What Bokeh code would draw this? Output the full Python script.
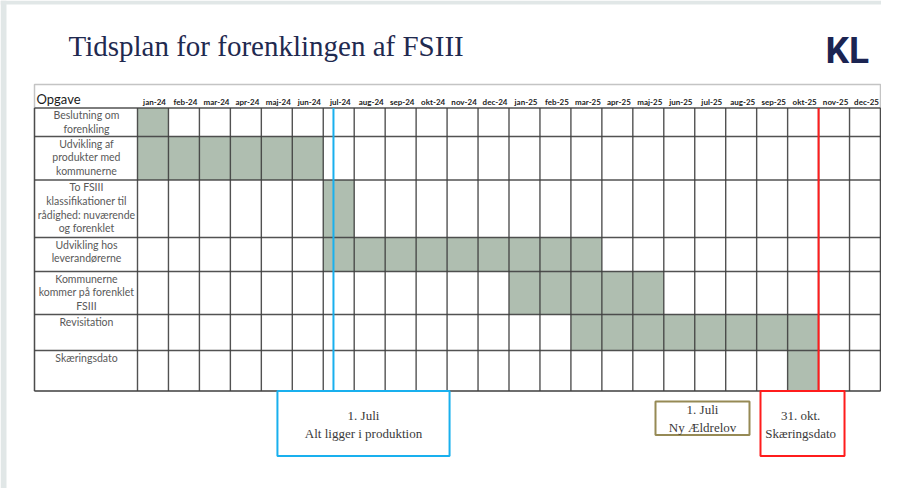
from bokeh.plotting import figure
from bokeh.models import Range1d
from bokeh.core.properties import value
from bokeh.embed import file_html
from bokeh.resources import INLINE

# ---------------- data ----------------
months = ["jan-24", "feb-24", "mar-24", "apr-24", "maj-24", "jun-24",
          "jul-24", "aug-24", "sep-24", "okt-24", "nov-24", "dec-24",
          "jan-25", "feb-25", "mar-25", "apr-25", "maj-25", "jun-25",
          "jul-25", "aug-25", "sep-25", "okt-25", "nov-25", "dec-25"]

tasks = ["Beslutning om\nforenkling",
         "Udvikling af\nprodukter med\nkommunerne",
         "To FSIII\nklassifikationer til\nrådighed: nuværende\nog forenklet",
         "Udvikling hos\nleverandørerne",
         "Kommunerne\nkommer på forenklet\nFSIII",
         "Revisitation",
         "Skæringsdato"]
task_start = ["jan-24", "jan-24", "jul-24", "jul-24", "jan-25", "mar-25", "okt-25"]
task_end = ["jan-24", "jun-24", "jul-24", "mar-25", "maj-25", "okt-25", "okt-25"]

header_label = "Opgave"
title_text = "Tidsplan for forenklingen af FSIII"
logo_text = "KL"

# milestones (position in months from start of jan-24)
blue_line_pos = 6.33
red_line_pos = 22.0
note_blue = "1. Juli\nAlt ligger i produktion"
note_olive = "1. Juli\nNy Ældrelov"
note_red = "31. okt.\nSkæringsdato"

# ---------------- layout (styles / sizes) ----------------
W, H = 881, 488
col0_px = 137.0          # x of the first month column
col_w = 30.958           # px per month
def px2m(px):
    return (px - col0_px) / col_w

x_start = px2m(0)
x_end = px2m(W)
label_left = px2m(34)
label_center = px2m(86)

header_top = 84.0
first_row_top = 107.5
row_heights = [28.5, 43.5, 57.5, 34.0, 43.0, 36.0, 40.5]
row_tops = []
y = first_row_top
for h in row_heights:
    row_tops.append(y)
    y += h
table_bottom = y
row_bounds = row_tops + [table_bottom]

fill_col = "#afbeb0"
grid_col = "#3f3f3f"
blue = "#19b0ee"
red = "#ff1c1c"
olive = "#968a55"
navy = "#1f2a50"
band = "#e1e7e7"

p = figure(width=W, height=H, x_range=Range1d(x_start, x_end),
           y_range=Range1d(H, 0), output_backend="svg", toolbar_location=None,
           min_border=0, x_axis_location=None, y_axis_location=None)
p.grid.visible = False
p.outline_line_color = None
p.background_fill_color = "white"
p.border_fill_color = "white"

# slide edge bands
p.quad(left=[x_start], right=[px2m(6)], top=[0], bottom=[H], fill_color=band, line_color=None)
p.quad(left=[x_start], right=[x_end], top=[0], bottom=[4], fill_color=band, line_color=None)

# title & logo
p.text(x=[px2m(68)], y=[45], text=[title_text], text_align="left",
       text_baseline="middle", text_font=value("Liberation Serif"),
       text_font_size="29px", text_color=navy)
p.text(x=[px2m(825)], y=[50], text=[logo_text], text_align="left",
       text_baseline="middle", text_font=value("Roboto"), text_font_style="bold",
       text_font_size="37px", text_color="#1b2452")

# outer light frame
p.quad(left=[label_left], right=[len(months)], top=[header_top], bottom=[table_bottom],
       fill_color=None, line_color="#c4c4c4", line_width=1.5)

# filled cells
idx = {m: i for i, m in enumerate(months)}
lefts = [idx[s] for s in task_start]
rights = [idx[e] + 1 for e in task_end]
bottoms = [t + h for t, h in zip(row_tops, row_heights)]
p.quad(left=lefts, right=rights, top=row_tops, bottom=bottoms,
       fill_color=fill_col, line_color=None)

# grid lines
vx = [label_left] + list(range(len(months) + 1))
p.segment(x0=vx, y0=[first_row_top] * len(vx), x1=vx, y1=[table_bottom] * len(vx),
          line_color=grid_col, line_width=1.4, line_alpha=0.9)
p.segment(x0=[label_left] * len(row_bounds), y0=row_bounds,
          x1=[len(months)] * len(row_bounds), y1=row_bounds,
          line_color=grid_col, line_width=1.4, line_alpha=0.9)

# header
p.text(x=[px2m(36)], y=[98], text=[header_label], text_align="left",
       text_baseline="middle", text_font=value("Lato"), text_font_size="13px",
       text_color="#1a1a1a")
p.text(x=[i + 0.55 for i in range(len(months))], y=[101] * len(months), text=months,
       text_align="center", text_baseline="middle", text_font=value("Lato"),
       text_font_style="bold", text_font_size="8px", text_color="#1a1a1a")

# task labels
p.text(x=[label_center] * len(tasks), y=[t + 1 for t in row_tops], text=tasks,
       text_align="center", text_baseline="top", text_font=value("Lato"),
       text_font_size="10.5px", text_color="#595959", text_line_height=1.15)

# milestone lines
p.segment(x0=[blue_line_pos], y0=[first_row_top], x1=[blue_line_pos], y1=[table_bottom],
          line_color=blue, line_width=2)
p.segment(x0=[red_line_pos], y0=[first_row_top], x1=[red_line_pos], y1=[table_bottom],
          line_color=red, line_width=2)

# note boxes
box_top = table_bottom
box_bottom = table_bottom + 65
p.quad(left=[blue_line_pos - 1.81], right=[blue_line_pos + 3.75], top=[box_top],
       bottom=[box_bottom], fill_color="white", line_color=blue, line_width=2)
p.quad(left=[red_line_pos - 1.876], right=[red_line_pos + 0.838], top=[box_top],
       bottom=[box_bottom], fill_color="white", line_color=red, line_width=2)
p.quad(left=[px2m(655)], right=[px2m(749)], top=[box_top + 10.5], bottom=[box_top + 44],
       fill_color="white", line_color=olive, line_width=2)

note_font = dict(text_align="center", text_baseline="middle",
                 text_font=value("Liberation Serif"), text_font_size="13px",
                 text_color="#3a3a3a", text_line_height=1.2)
p.text(x=[blue_line_pos + 0.97], y=[box_top + 33], text=[note_blue], **note_font)
p.text(x=[red_line_pos - 0.58], y=[box_top + 33], text=[note_red], **note_font)
p.text(x=[px2m(702)], y=[box_top + 27.5], text=[note_olive], **note_font)

open("out.html", "w").write(file_html(p, INLINE))
